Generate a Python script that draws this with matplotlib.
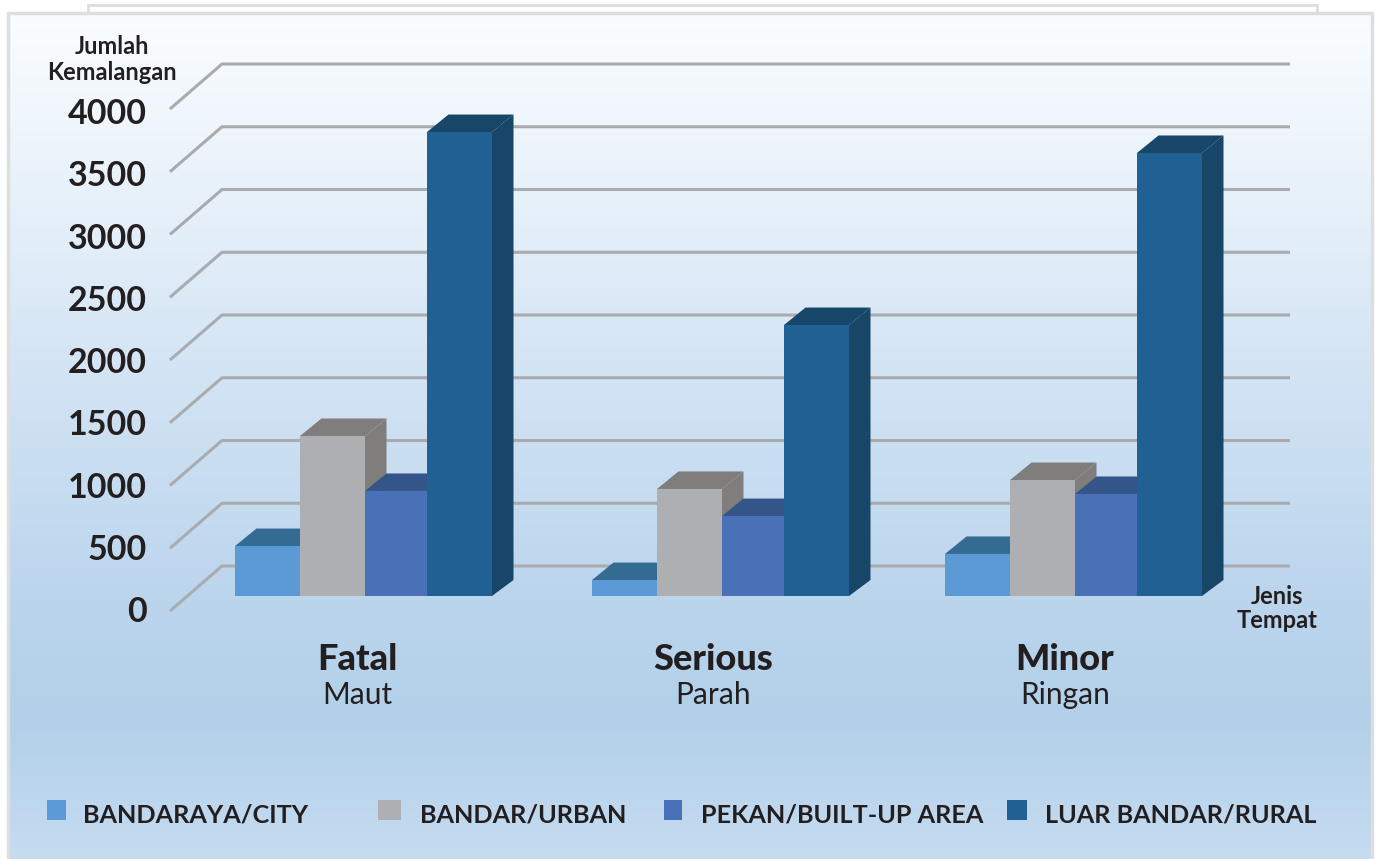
import matplotlib
matplotlib.use('Agg')
import matplotlib.pyplot as plt
import numpy as np
from matplotlib.patches import Rectangle

groups_en = ['Fatal', 'Serious', 'Minor']
groups_ms = ['Maut', 'Parah', 'Ringan']
series_names = ['BANDARAYA/CITY', 'BANDAR/URBAN', 'PEKAN/BUILT-UP AREA', 'LUAR BANDAR/RURAL']
city = [398, 127, 335]
urban = [1275, 853, 924]
built_up = [837, 637, 813]
rural = [3697, 2159, 3530]
y_ticks = [0, 500, 1000, 1500, 2000, 2500, 3000, 3500, 4000]

front_colors = ['#5B9AD4', '#AEAFB3', '#4A70B7', '#216093']
dark_colors = ['#336B93', '#7F7E7C', '#34558A', '#174668']
TEXT = '#231F20'
GRID = '#A9ABAE'

W, H = 1376, 859
K = 0.1255  # px per accident
DX, DY = 21.5, 17.5 / K  # depth of the 3d look

fig = plt.figure(figsize=(W / 100, H / 100), dpi=100, facecolor='white')
ax = fig.add_axes([0, 0, 1, 1])
ax.axis('off')


def py(p):
    return (596 - p) / K


# background sheets + gradient panel
ax.add_patch(Rectangle((88, py(13)), 1229, 8 / K, fc='white', ec='#DDDEE0', lw=2, zorder=0))
stops = [13, 200, 400, 600, 720, 859]
rows = np.arange(13, H)
r = np.interp(rows, stops, [250, 231, 208, 187, 178, 198])
g = np.interp(rows, stops, [253, 241, 226, 213, 208, 220])
b = np.interp(rows, stops, [255, 250, 243, 237, 233, 241])
grad = np.stack([r, g, b], axis=1).reshape(-1, 1, 3) / 255
ax.imshow(grad, extent=[8, 1372, py(H), py(13)], aspect='auto', zorder=0.5)
ax.set_xlim(0, W)
ax.set_ylim(-(H - 596) / K, 596 / K)
ax.plot([8, 8, 1372, 1372], [py(H), py(13), py(13), py(H)], color='#DDDEE0', lw=2.5, zorder=1)

# gridlines, going back along the floor
for t in y_ticks:
    ax.plot([170, 222, 1290], [t - 15 / K, t + 30 / K, t + 30 / K], color=GRID, lw=2.2,
            solid_capstyle='butt', zorder=2)
    ax.text(147, t * 0.992 - 16 / K, str(t), ha='right', va='center', fontsize=24.5, fontweight='bold',
            family='Lato', color=TEXT, zorder=5)

# bars
series = [city, urban, built_up, rural]
starts = [235, 592, 945]
widths = [65, 65, 62, 65]
z = 3.0
for g_i, x0 in enumerate(starts):
    left = x0
    for s_i, vals in enumerate(series):
        v = vals[g_i]
        w = widths[s_i]
        dark = dark_colors[s_i]
        ax.fill([left, left + DX, left + w + DX, left + w], [v, v + DY, v + DY, v], color=dark, lw=0, zorder=z)
        ax.fill([left + w, left + w + DX, left + w + DX, left + w], [v, v + DY, DY - 1.5 / K, 0], color=dark, lw=0, zorder=z)
        ax.bar(left, v, w, align='edge', color=front_colors[s_i], lw=0, zorder=z + 0.01)
        left += w
        z += 0.1

# group labels
label_x = [357, 713, 1065]
for x, en, ms in zip(label_x, groups_en, groups_ms):
    ax.text(x, py(660), en, ha='center', va='center', fontsize=26, fontweight='black', family='Lato', color=TEXT, zorder=5)
    ax.text(x, py(695), ms, ha='center', va='center', fontsize=21.5, fontweight='normal', family='Lato', color=TEXT, zorder=5)

# axis captions
cap = dict(ha='center', va='center', fontsize=17, fontweight='bold', family='Lato', color=TEXT, zorder=5)
ax.text(112, py(47), 'Jumlah', **cap)
ax.text(112, py(73), 'Kemalangan', **cap)
ax.text(1277, py(597), 'Jenis', **cap)
ax.text(1277, py(621), 'Tempat', **cap)

# legend
key_x = [47, 378, 664, 1007]
key_w = [19, 23, 18, 20]
text_x = [83, 420, 701, 1045]
for i, name in enumerate(series_names):
    ax.add_patch(Rectangle((key_x[i], py(820)), key_w[i], 20 / K, fc=front_colors[i], lw=0, zorder=5))
    ax.text(text_x[i], py(815), name, ha='left', va='center', fontsize=18.2, fontweight='bold',
            family='Lato', color=TEXT, zorder=5)

plt.savefig('out.png', dpi=100)
